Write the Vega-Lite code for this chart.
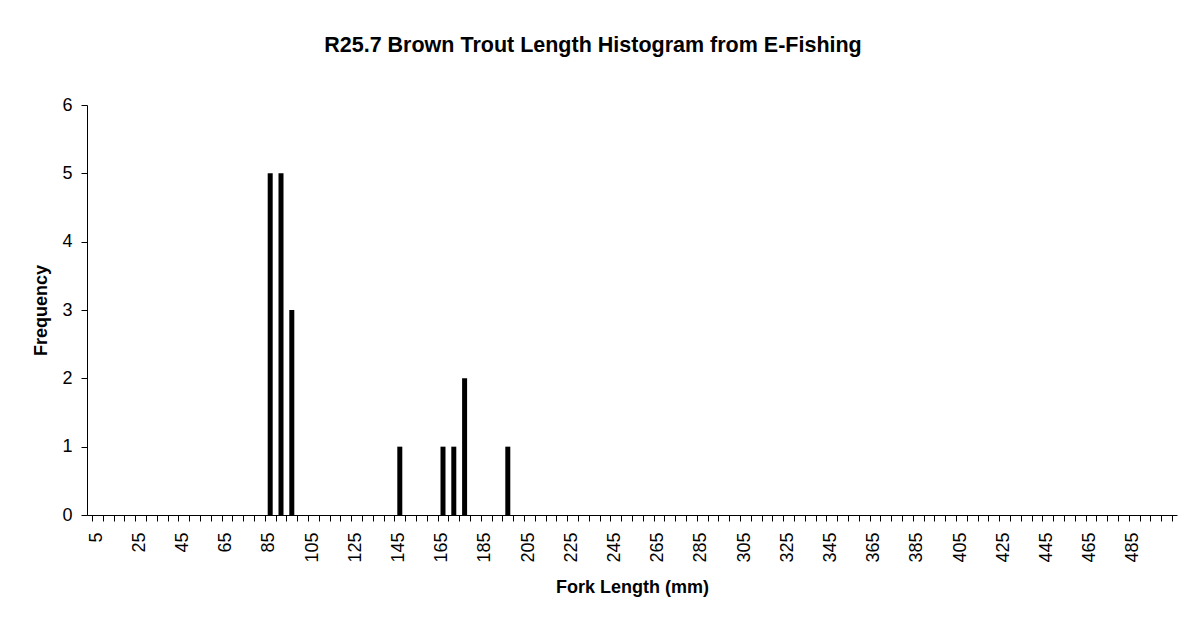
{
  "$schema": "https://vega.github.io/schema/vega-lite/v6.json",
  "autosize": {"type": "none"},
  "width": 1090,
  "height": 410,
  "padding": {"left": 87, "top": 105, "right": 10, "bottom": 110},
  "background": "white",
  "title": {
    "text": "R25.7 Brown Trout Length Histogram from E-Fishing",
    "font": "Liberation Sans",
    "fontSize": 21.5,
    "fontWeight": "bold",
    "color": "black",
    "anchor": "middle",
    "dx": -39,
    "offset": 40
  },
  "data": {
    "values": [
      {"length": 85, "count": 5},
      {"length": 90, "count": 5},
      {"length": 95, "count": 3},
      {"length": 145, "count": 1},
      {"length": 165, "count": 1},
      {"length": 170, "count": 1},
      {"length": 175, "count": 2},
      {"length": 195, "count": 1}
    ]
  },
  "mark": {"type": "bar", "width": 5, "color": "black"},
  "encoding": {
    "x": {
      "field": "length",
      "type": "quantitative",
      "scale": {"domain": [2.5, 502.5], "nice": false, "zero": false},
      "axis": {
        "title": "Fork Length (mm)",
        "titleFont": "Liberation Sans",
        "titleFontSize": 18,
        "titleFontWeight": "bold",
        "titleColor": "black",
        "titlePadding": 16,
        "labelFont": "Liberation Sans",
        "labelFontSize": 18,
        "labelColor": "black",
        "labelAngle": -90,
        "labelAlign": "right",
        "labelBaseline": "middle",
        "labelPadding": 11,
        "labelOffset": 4,
        "labelOverlap": false,
        "labelFlush": false,
        "labelBound": false,
        "labelExpr": "((datum.value - 2.5) % 20 == 0 && datum.value < 490) ? format(datum.value + 2.5, 'd') : ''",
        "values": [2.5,7.5,12.5,17.5,22.5,27.5,32.5,37.5,42.5,47.5,52.5,57.5,62.5,67.5,72.5,77.5,82.5,87.5,92.5,97.5,102.5,107.5,112.5,117.5,122.5,127.5,132.5,137.5,142.5,147.5,152.5,157.5,162.5,167.5,172.5,177.5,182.5,187.5,192.5,197.5,202.5,207.5,212.5,217.5,222.5,227.5,232.5,237.5,242.5,247.5,252.5,257.5,262.5,267.5,272.5,277.5,282.5,287.5,292.5,297.5,302.5,307.5,312.5,317.5,322.5,327.5,332.5,337.5,342.5,347.5,352.5,357.5,362.5,367.5,372.5,377.5,382.5,387.5,392.5,397.5,402.5,407.5,412.5,417.5,422.5,427.5,432.5,437.5,442.5,447.5,452.5,457.5,462.5,467.5,472.5,477.5,482.5,487.5,492.5,497.5,502.5],
        "tickSize": 6,
        "tickColor": "black",
        "domainColor": "black",
        "grid": false
      }
    },
    "y": {
      "field": "count",
      "type": "quantitative",
      "scale": {"domain": [0, 6], "nice": false},
      "axis": {
        "title": "Frequency",
        "titleFont": "Liberation Sans",
        "titleFontSize": 18,
        "titleFontWeight": "bold",
        "titleColor": "black",
        "titlePadding": 11,
        "labelFont": "Liberation Sans",
        "labelFontSize": 18,
        "labelColor": "black",
        "labelPadding": 9,
        "values": [0, 1, 2, 3, 4, 5, 6],
        "tickSize": 6,
        "tickColor": "black",
        "domainColor": "black",
        "grid": false
      }
    }
  },
  "config": {
    "view": {"stroke": null}
  }
}
